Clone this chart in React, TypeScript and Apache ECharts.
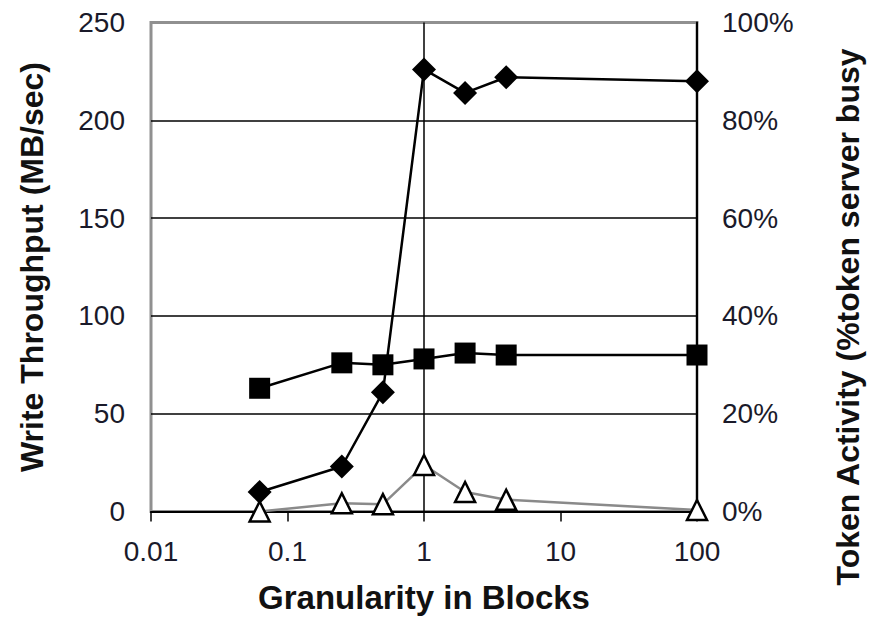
import React, { useEffect, useRef } from "react";
import * as echarts from "echarts";

const granularity = [0.0625, 0.25, 0.5, 1, 2, 4, 100];
const seriesDiamond = [10, 23, 61, 226, 214, 222, 220];
const seriesSquare = [63, 76, 75, 78, 81, 80, 80];
const tokenActivity = [0, 1.7, 1.5, 9.5, 4, 2.4, 0.3];
const xTickLabels = ["0.01", "0.1", "1", "10", "100"];
const xTitle = "Granularity in Blocks";
const yLeftTitle = "Write Throughput (MB/sec)";
const yRightTitle = "Token Activity (%token server busy";

const FONT = "'Liberation Sans', Arial, sans-serif";

export default function App() {
  const ref = useRef<HTMLDivElement>(null);
  useEffect(() => {
    if (!ref.current) return;
    const chart = echarts.init(ref.current, null, { renderer: "svg" });
    const pair = (ys: number[]) => granularity.map((x, i) => [x, ys[i]]);
    chart.setOption({
      animation: false,
      backgroundColor: "#ffffff",
      grid: {
        left: 151,
        right: 180,
        top: 22.5,
        bottom: 111.5,
        show: true,
        borderColor: "#909090",
        borderWidth: 3,
        backgroundColor: "transparent",
      },
      xAxis: {
        type: "log",
        logBase: 10,
        min: 0.01,
        max: 100,
        name: xTitle,
        nameLocation: "middle",
        nameGap: 69,
        nameTextStyle: { fontFamily: FONT, fontWeight: "bold", fontSize: 33, color: "#111" },
        axisLine: { show: true, lineStyle: { color: "#000", width: 2 } },
        axisTick: { show: true, inside: false, length: 10, lineStyle: { color: "#000", width: 1.5 } },
        axisLabel: {
          margin: 26,
          fontFamily: FONT,
          fontSize: 28,
          color: "#1a1a2a",
          formatter: (v: number) => {
            const idx = Math.round(Math.log10(v)) + 2;
            return xTickLabels[idx] ?? "";
          },
        },
        splitLine: { show: false },
        minorTick: { show: false },
      },
      yAxis: [
        {
          type: "value",
          position: "left",
          min: 0,
          max: 250,
          interval: 50,
          name: yLeftTitle,
          nameLocation: "middle",
          nameGap: 103,
          nameRotate: 90,
          nameTextStyle: { fontFamily: FONT, fontWeight: "bold", fontSize: 32, color: "#111" },
          axisLine: { show: false },
          axisTick: { show: false },
          axisLabel: { margin: 26, fontFamily: FONT, fontSize: 28, color: "#1a1a2a" },
          splitLine: {
            show: true,
            showMinLine: false,
            showMaxLine: false,
            lineStyle: { color: "#000", width: 1.5 },
          },
        },
        {
          type: "value",
          position: "right",
          min: 0,
          max: 100,
          interval: 20,
          name: yRightTitle,
          nameLocation: "middle",
          nameGap: 135,
          nameRotate: 90,
          nameTextStyle: {
            fontFamily: FONT,
            fontWeight: "bold",
            fontSize: 32,
            color: "#111",
            padding: [0, 100, 0, 0],
          },
          axisLine: { show: true, lineStyle: { color: "#000", width: 2 } },
          axisTick: { show: false },
          axisLabel: {
            margin: 25,
            fontFamily: FONT,
            fontSize: 28,
            color: "#1a1a2a",
            formatter: "{value}%",
          },
          splitLine: { show: false },
        },
      ],
      series: [
        {
          type: "line",
          yAxisIndex: 0,
          data: pair(seriesDiamond),
          symbol: "diamond",
          symbolSize: 24,
          itemStyle: { color: "#000" },
          lineStyle: { color: "#000", width: 2.5 },
          z: 3,
          markLine: {
            silent: true,
            symbol: "none",
            label: { show: false },
            lineStyle: { color: "#000", width: 1.5, type: "solid" },
            data: [{ xAxis: 1 }],
            z: 1,
          },
        },
        {
          type: "line",
          yAxisIndex: 0,
          data: pair(seriesSquare),
          symbol: "rect",
          symbolSize: 21,
          itemStyle: { color: "#000" },
          lineStyle: { color: "#000", width: 2.5 },
          z: 4,
        },
        {
          type: "line",
          yAxisIndex: 1,
          data: pair(tokenActivity),
          symbol: "triangle",
          symbolSize: [20, 20],
          itemStyle: { color: "#fff", borderColor: "#000", borderWidth: 2.5 },
          lineStyle: { color: "#8a8a8a", width: 2.5 },
          z: 5,
        },
      ],
    });
    return () => chart.dispose();
  }, []);
  return (
    <div
      ref={ref}
      style={{ position: "fixed", left: 0, top: 0, width: 877, height: 623 }}
    />
  );
}
